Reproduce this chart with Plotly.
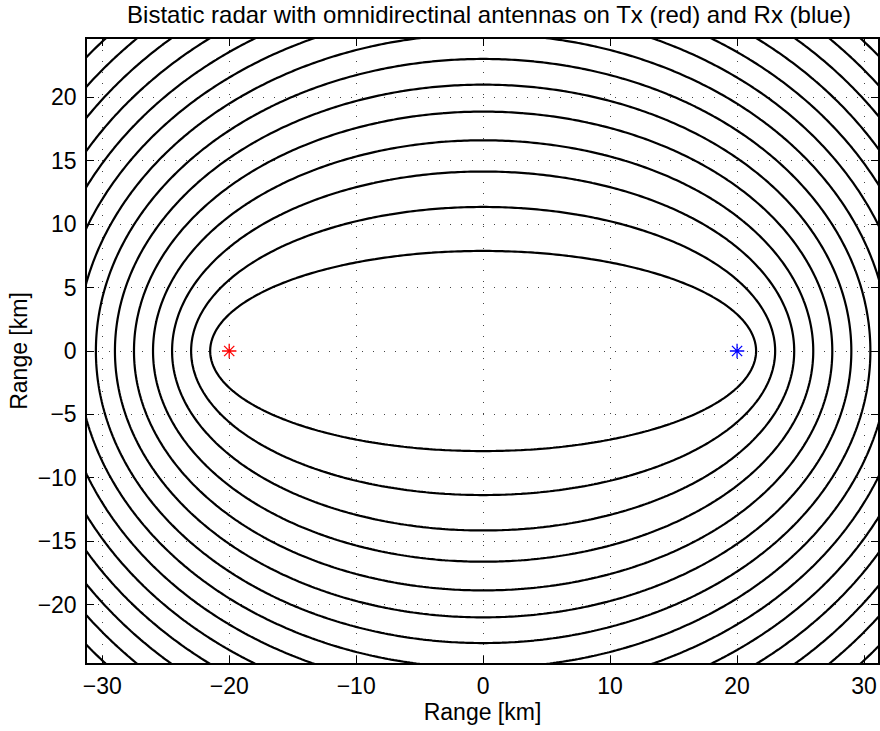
import numpy as np
import plotly.graph_objects as go

# --- data ---
TX_POS = [-20.0, 0.0]   # transmitter (red)
RX_POS = [20.0, 0.0]    # receiver (blue)
# contour levels of bistatic range sum R_tx + R_rx [km]
CONTOUR_LEVELS = [43, 46, 49, 52, 55, 58, 61, 64, 67, 70, 73, 76, 79, 82, 85]
X_TICKS = [-30, -20, -10, 0, 10, 20, 30]
Y_TICKS = [-20, -15, -10, -5, 0, 5, 10, 15, 20]
X_RANGE = [-31.2, 31.1]
Y_RANGE = [-24.6, 24.6]

# grid over which the range-sum field is evaluated
xg = np.linspace(-32, 32, 257)
yg = np.linspace(-25, 25, 201)
X, Y = np.meshgrid(xg, yg)
Z = np.hypot(X - TX_POS[0], Y - TX_POS[1]) + np.hypot(X - RX_POS[0], Y - RX_POS[1])

FONT = "Liberation Sans, Arial, Helvetica, sans-serif"
FS = 23

fig = go.Figure()
fig.add_trace(go.Contour(
    x=xg, y=yg, z=Z,
    contours=dict(coloring="lines", start=CONTOUR_LEVELS[0],
                  end=CONTOUR_LEVELS[-1],
                  size=CONTOUR_LEVELS[1] - CONTOUR_LEVELS[0],
                  showlabels=False),
    colorscale=[[0, "black"], [1, "black"]],
    line=dict(width=2.2, color="black", smoothing=0),
    showscale=False, hoverinfo="skip",
))
fig.add_trace(go.Scatter(
    x=[TX_POS[0]], y=[TX_POS[1]], mode="markers",
    marker=dict(symbol="asterisk-open", size=12, color="red",
                line=dict(color="red", width=1.3)),
    showlegend=False,
))
fig.add_trace(go.Scatter(
    x=[RX_POS[0]], y=[RX_POS[1]], mode="markers",
    marker=dict(symbol="asterisk-open", size=12, color="blue",
                line=dict(color="blue", width=1.3)),
    showlegend=False,
))

axis_common = dict(
    showline=True, linecolor="black", linewidth=1.5, mirror="ticks",
    ticks="inside", ticklen=7, tickcolor="black", tickwidth=1,
    showgrid=True, gridcolor="#444444", gridwidth=1, griddash="1px,10px",
    zeroline=False, tickfont=dict(family=FONT, size=FS, color="black"),
    automargin=False,
)
fig.update_xaxes(range=X_RANGE, tickvals=X_TICKS, **axis_common,
                 ticklabelstandoff=2,
                 title=dict(text="Range [km]", standoff=2,
                            font=dict(family=FONT, size=FS, color="black")))
fig.update_yaxes(range=Y_RANGE, tickvals=Y_TICKS, **axis_common,
                 ticklabelstandoff=4,
                 title=dict(text="Range [km]", standoff=4,
                            font=dict(family=FONT, size=FS, color="black")))

fig.update_layout(
    width=880, height=731,
    margin=dict(l=87, r=2, t=39, b=68),
    plot_bgcolor="white", paper_bgcolor="white",
    title=dict(text="Bistatic radar with omnidirectinal antennas on Tx (red) and Rx (blue)",
               x=489 / 880, xanchor="center", y=1 - 15 / 731, yanchor="middle",
               font=dict(family=FONT, size=24, color="black")),
    showlegend=False,
)

fig.write_html(
    "out.html",
    config={"displayModeBar": False},
    post_script=("document.documentElement.style.margin='0';"
                 "document.body.style.margin='0';"
                 "document.body.style.overflow='hidden';"
                 "document.documentElement.style.overflow='hidden';"),
)
